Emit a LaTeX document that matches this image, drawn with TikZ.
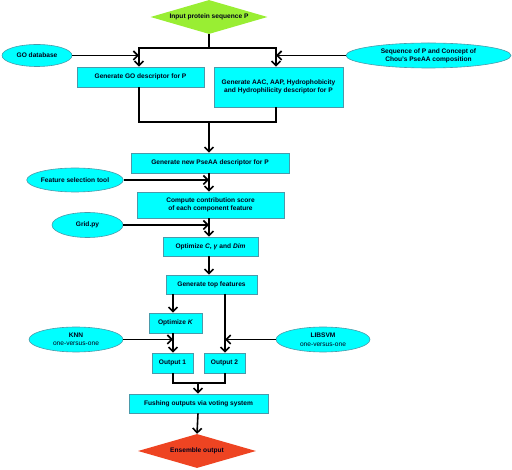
\documentclass[tikz,border=0pt]{standalone}
\usepackage{fontspec}
\setmainfont{Liberation Sans}
\usetikzlibrary{shapes.geometric,arrows.meta}
\definecolor{boxfill}{HTML}{00FFFF}
\definecolor{boxline}{HTML}{4A9AAA}
\definecolor{startfill}{HTML}{99EE33}
\definecolor{endfill}{HTML}{EE4422}
\begin{document}
\begin{tikzpicture}[x=1pt,y=-1pt,
  every node/.style={font=\fontsize{6.6}{8}\selectfont\bfseries, align=center, inner sep=0pt, text=black!90!blue},
  procbox/.style={draw=boxline, line width=0.6pt, fill=boxfill},
  srcell/.style={ellipse, draw=boxline, line width=0.6pt, fill=boxfill},
  decis/.style={diamond, draw=none, aspect=3.4},
  conn/.style={line width=1.6pt, black},
  arr/.style={conn, -{Straight Barb[length=4.5pt,width=9pt]}}
]
\useasboundingbox (0,0) rectangle (512,470);
% start / end diamonds
\node[decis, fill=startfill, minimum width=117pt, minimum height=34pt] (in) at (209,17) {};
\node at (209,17) (intext) {Input protein sequence P};
\node[decis, fill=endfill, minimum width=118pt, minimum height=34pt] (out) at (197,451) {};
\node at (197,451) (outtext) {Ensemble output};
% ellipses
\node[srcell, minimum width=70pt, minimum height=22pt] (godb) at (37,55.5) {GO database};
\node[srcell, minimum width=165pt, minimum height=25pt] (seq) at (428.5,55.5) {Sequence of P and Concept of\\Chou's PseAA composition};
\node[srcell, minimum width=96pt, minimum height=24pt] (fst) at (75,180) {Feature selection tool};
\node[srcell, minimum width=71pt, minimum height=25pt] (grid) at (87.5,225) {Grid.py};
\node[srcell, minimum width=94pt, minimum height=25pt] (knn) at (76,339.5) {KNN\\[0.5pt]\mdseries one-versus-one};
\node[srcell, minimum width=94pt, minimum height=25pt] (svm) at (323,339.5) {LIBSVM\\[0.5pt]\mdseries one-versus-one};
% boxes
\node[procbox, minimum width=127pt, minimum height=20pt] (go) at (140.5,77) {Generate GO descriptor for P};
\node[procbox, minimum width=129pt, minimum height=40pt] (aac) at (278.5,87) {Generate AAC, AAP, Hydrophobicity\\and Hydrophilicity descriptor for P};
\node[procbox, minimum width=158pt, minimum height=20pt] (pse) at (210,163) {Generate new PseAA descriptor for P};
\node[procbox, minimum width=147pt, minimum height=26pt] (cmp) at (210.5,205) {Compute contribution score\\of each component feature};
\node[procbox, minimum width=95pt, minimum height=19pt] (optc) at (210.5,246.5) {Optimize \textit{C}, \textit{γ} and \textit{Dim}};
\node[procbox, minimum width=91pt, minimum height=19pt] (top) at (211.5,284.5) {Generate top features};
\node[procbox, minimum width=53pt, minimum height=20pt] (optk) at (175.5,323) {Optimize \textit{K}};
\node[procbox, minimum width=41pt, minimum height=20pt] (o1) at (172.5,363) {Output 1};
\node[procbox, minimum width=41pt, minimum height=20pt] (o2) at (224.5,363) {Output 2};
\node[procbox, minimum width=139pt, minimum height=19pt] (fus) at (198.5,403.5) {Fushing outputs via voting system};
% junction coordinates
\coordinate (j1) at (209,48);
\coordinate (jl) at (139,48);
\coordinate (jr) at (276,48);
\coordinate (kl) at (139,122);
\coordinate (kr) at (276,122);
\coordinate (km) at (209,122);
\coordinate (tl) at (173,294);
\coordinate (tr) at (225,294);
\coordinate (ml) at (173,383);
\coordinate (mr) at (225,383);
\coordinate (mm) at (198,383);
% connectors
\draw[conn] (in.south) -- (j1);
\draw[conn, line cap=rect] (jl) -- (jr);
\draw[arr] (jl) -- (jl |- go.north);
\draw[arr] (jr) -- (jr |- aac.north);
\draw[arr] (godb.east) -- (godb.east -| jl);
\draw[arr] (seq.west) -- (seq.west -| jr);
\draw[conn] (kl |- go.south) -- (kl) -- (kr) -- (kr |- aac.south);
\draw[arr] (km) -- (km |- pse.north);
\draw[arr] (km |- pse.south) -- (km |- cmp.north);
\draw[arr] (fst.east) -- (fst.east -| km);
\draw[arr] (km |- cmp.south) -- (km |- optc.north);
\draw[arr] (grid.east) -- (grid.east -| km);
\draw[arr] (km |- optc.south) -- (km |- top.north);
\draw[arr] (tl) -- (tl |- optk.north);
\draw[arr] (tr) -- (tr |- o2.north);
\draw[arr] (tl |- optk.south) -- (tl |- o1.north);
\draw[arr] (knn.east) -- (knn.east -| tl);
\draw[arr] (svm.west) -- (svm.west -| tr);
\draw[conn] (ml |- o1.south) -- (ml) -- (mr) -- (mr |- o2.south);
\draw[arr] (mm) -- (mm |- fus.north);
\draw[arr] (mm |- fus.south) -- (out.north);
\end{tikzpicture}
\end{document}
